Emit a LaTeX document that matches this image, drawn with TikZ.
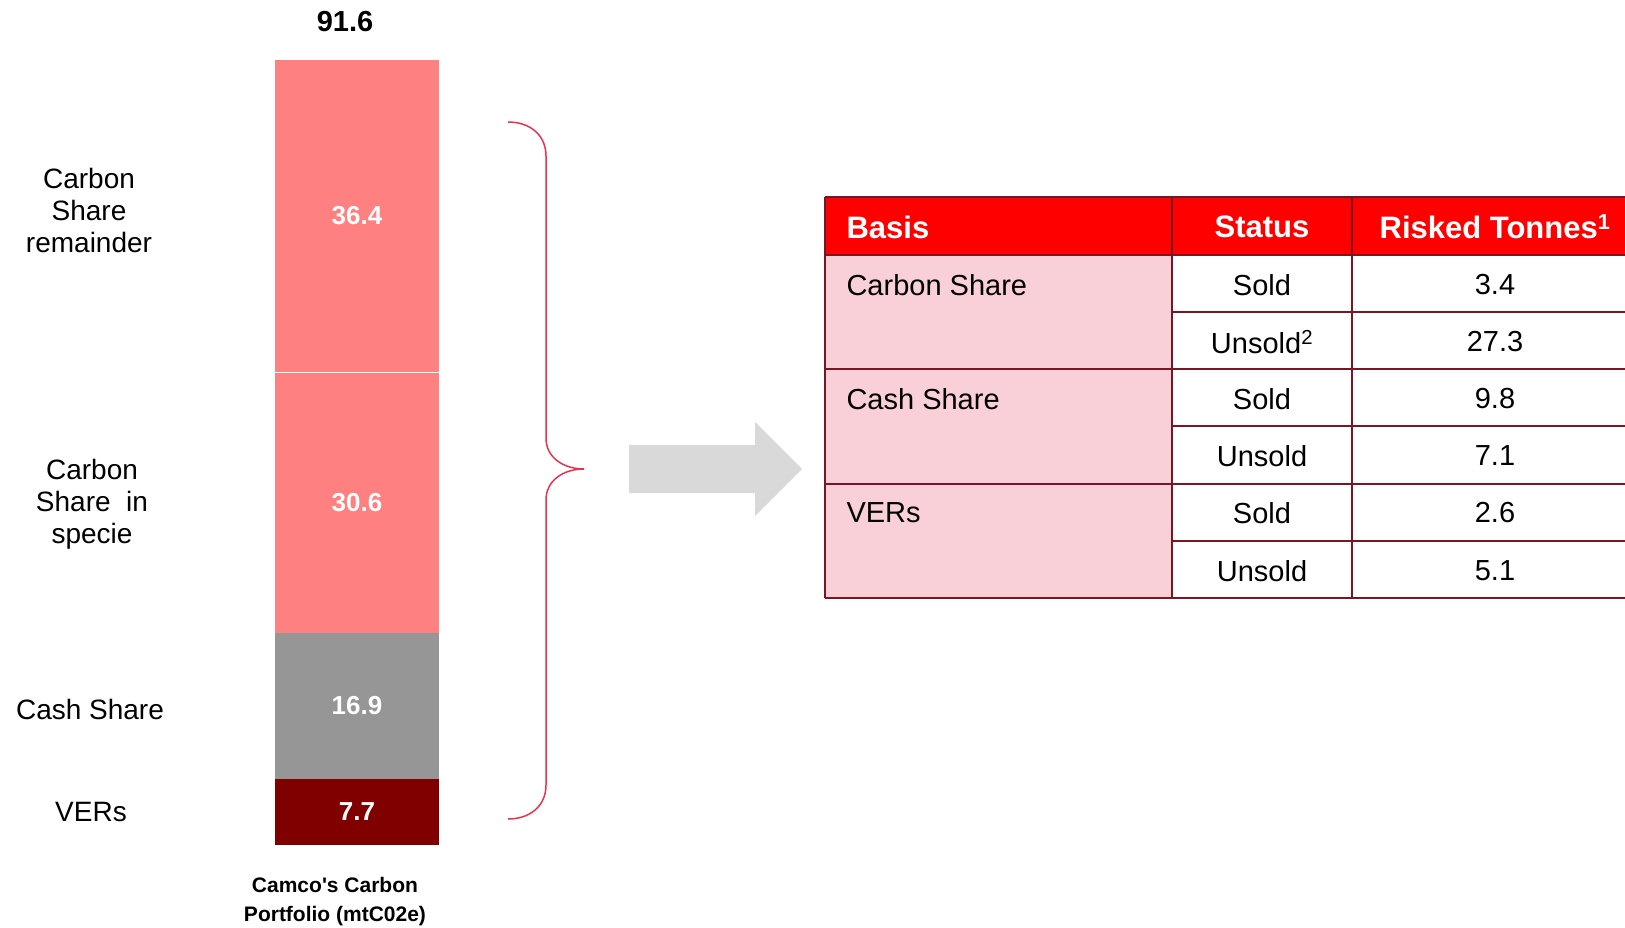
\documentclass[tikz,border=0pt]{standalone}
\usepackage{fontspec}
\setmainfont{Liberation Sans}
\definecolor{barpink}{HTML}{FF8080}
\definecolor{bargray}{HTML}{969696}
\definecolor{bardark}{HTML}{800000}
\definecolor{bracecol}{HTML}{E8324F}
\definecolor{arrowgray}{HTML}{D9D9D9}
\definecolor{tblborder}{HTML}{7A1526}
\definecolor{hdrred}{HTML}{FF0000}
\definecolor{cellpink}{HTML}{F9D0D7}
\begin{document}
\begin{tikzpicture}[x=1pt,y=-1pt,
  seg/.style={inner sep=0, minimum width=164, text=white, font=\fontsize{26}{30}\selectfont\bfseries},
  sidelbl/.style={align=center, font=\fontsize{28}{32}\selectfont},
  hdr/.style={text=white, font=\fontsize{31}{34}\selectfont\bfseries},
  cell/.style={font=\fontsize{29}{32}\selectfont},
  tline/.style={draw=tblborder, line width=2.8pt}
]
\useasboundingbox (0,0) rectangle (1625,928);

% bar
\node[seg, fill=barpink, minimum height=312] (s1) at (357,216) {36.4};
\node[seg, fill=barpink, minimum height=261] (s2) at (357,502.5) {30.6};
\node[seg, fill=bargray, minimum height=146] (s3) at (357,706) {16.9};
\node[seg, fill=bardark, minimum height=66] (s4) at (357,812) {7.7};
\draw[white, line width=1pt] (s1.south west) -- (s1.south east);

\node[font=\fontsize{29}{32}\selectfont\bfseries] (total) at (345,22) {91.6};
\node[align=center, font=\fontsize{21}{29}\selectfont\bfseries] (caption) at (335,902) {Camco\textquotesingle s Carbon\\Portfolio (mtC02e)};

% side labels
\node[sidelbl] (l1) at (89,210) {Carbon\\Share\\remainder};
\node[sidelbl] (l2) at (92,504) {Carbon\\Share~ in\\specie};
\node[sidelbl] (l3) at (90,709) {Cash Share};
\node[sidelbl] (l4) at (91,812) {VERs};

% brace
\coordinate (btop) at (508,122);
\coordinate (btip) at (584,469);
\coordinate (bbot) at (508,819);
\draw[bracecol, line width=1.5pt]
  (btop) .. controls (530,122) and (546,135) .. (546,156)
  -- (546,438) .. controls (546,458) and (564,469) .. (btip)
  .. controls (564,469) and (546,480) .. (546,500)
  -- (546,785) .. controls (546,806) and (530,819) .. (bbot);

% arrow
\fill[arrowgray] (629,445) -- (755,445) -- (755,422) -- (802,469) -- (755,516) -- (755,493) -- (629,493) -- cycle;
\coordinate (arrowtip) at (802,469);

% table fills
\fill[hdrred] (825,197) rectangle (1640,255);
\fill[cellpink] (825,255) rectangle (1172,598);

% table lines
\draw[tline] (825,197) -- (1640,197);
\draw[tline] (825,255) -- (1640,255);
\draw[tline] (1172,312) -- (1640,312);
\draw[tline] (825,369) -- (1640,369);
\draw[tline] (1172,426) -- (1640,426);
\draw[tline] (825,484) -- (1640,484);
\draw[tline] (1172,541) -- (1640,541);
\draw[tline] (825,598) -- (1640,598);
\draw[tline] (825,197) -- (825,598);
\draw[tline] (1172,197) -- (1172,598);
\draw[tline] (1352,197) -- (1352,598);

% header
\node[hdr, anchor=west] (hb) at (843,227) {Basis};
\node[hdr] (hs) at (1262,227) {Status};
\node[hdr] (hr) at (1495,227) {Risked Tonnes\textsuperscript{1}};

% body
\node[cell, anchor=west] (b1) at (843,285) {Carbon Share};
\node[cell, anchor=west] (b2) at (843,399) {Cash Share};
\node[cell, anchor=west] (b3) at (843,513) {VERs};

\node[cell] (st1) at (1262,285) {Sold};
\node[cell] (st2) at (1262,342) {Unsold\textsuperscript{2}};
\node[cell] (st3) at (1262,399) {Sold};
\node[cell] (st4) at (1262,456) {Unsold};
\node[cell] (st5) at (1262,513) {Sold};
\node[cell] (st6) at (1262,571) {Unsold};

\node[cell] (v1) at (1495,285) {3.4};
\node[cell] (v2) at (1495,342) {27.3};
\node[cell] (v3) at (1495,399) {9.8};
\node[cell] (v4) at (1495,456) {7.1};
\node[cell] (v5) at (1495,513) {2.6};
\node[cell] (v6) at (1495,571) {5.1};
\end{tikzpicture}
\end{document}
